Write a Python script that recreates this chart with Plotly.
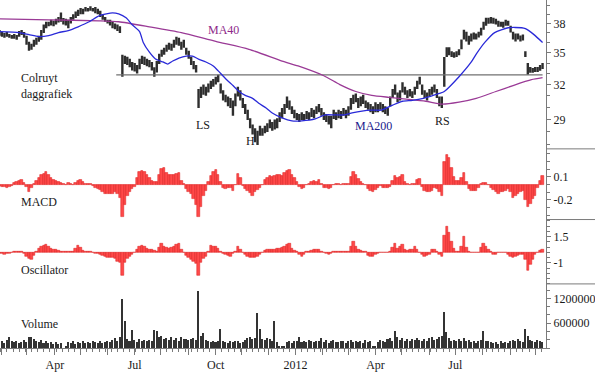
import math
import pandas as pd
import plotly.graph_objects as go

# ---------------- data ----------------
START_DAY = "2011-01-28"
N_DAYS = 443
STEP = 2  # one plotted bar per two trading sessions

price_low = [36.7, 36.6, 36.5, 36.6, 36.5, 36.4, 36.4, 36.3, 36.6, 36.8,
             36.5, 35.8, 35.2, 35.3, 35.6, 35.8, 36.1, 36.3, 37.0, 37.5,
             37.7, 37.8, 37.7, 37.9, 38.1, 38.2, 37.9, 37.8, 37.5, 38.0,
             38.4, 38.6, 38.8, 39.0, 39.0, 39.3, 39.3, 39.4, 39.3, 39.1,
             39.0, 38.7, 38.4, 38.2, 38.0, 37.8, 37.5, 37.4, 37.2, 37.0,
             32.7, 33.9, 33.8, 33.6, 33.3, 33.2, 33.0, 33.4, 33.9, 33.8,
             33.7, 33.6, 33.3, 32.7, 33.1, 33.9, 34.6, 34.8, 35.1, 35.3,
             35.2, 35.5, 35.8, 35.7, 35.3, 35.5, 34.8, 34.4, 33.8, 33.4,
             33.1, 29.95, 30.8, 31.1, 31.0, 31.3, 31.6, 31.8, 32.0, 32.2,
             31.2, 30.6, 30.45, 30.1, 29.95, 29.3, 30.1, 30.95, 30.6, 29.95,
             29.46, 28.97, 28.3, 27.8, 27.2, 27.0, 27.7, 27.7, 27.9, 28.0,
             28.3, 28.1, 28.2, 28.3, 28.8, 29.1, 29.46, 29.95, 29.8, 29.46,
             29.1, 28.97, 28.8, 28.97, 28.9, 29.05, 28.97, 29.2, 29.1, 29.46,
             29.6, 29.3, 28.97, 28.8, 28.6, 28.3, 29.05, 28.97, 29.1, 29.05,
             29.3, 29.1, 29.3, 29.8, 30.3, 30.45, 29.95, 30.1, 30.3, 29.95,
             29.8, 29.6, 29.46, 29.6, 29.6, 29.8, 29.6, 29.46, 29.3, 30.1,
             30.8, 31.1, 30.45, 30.6, 31.3, 31.1, 30.8, 30.95, 30.8, 31.1,
             31.6, 32.0, 31.1, 30.8, 30.6, 30.95, 31.1, 31.3, 30.8, 30.1,
             29.95, 31.8, 34.57, 34.76, 34.57, 34.5, 34.57, 34.76, 35.34, 36.33,
             36.13, 35.8, 36.13, 36.33, 36.33, 36.53, 36.73, 37.35, 37.76, 37.97,
             38.0, 37.97, 37.9, 37.65, 37.65, 37.55, 37.76, 37.76, 37.04, 36.33,
             36.13, 36.33, 36.13, 36.23, 34.57, 32.89, 33.07, 33.07, 33.16, 33.16,
             33.26, 33.44]

price_high = [37.3, 37.1, 37.0, 37.1, 36.9, 36.8, 36.9, 36.8, 37.2, 37.3,
              37.1, 36.7, 36.1, 35.9, 36.3, 36.5, 36.7, 37.3, 37.9, 38.2,
              38.2, 38.4, 38.3, 38.5, 38.7, 39.2, 38.6, 38.5, 38.4, 38.7,
              39.0, 39.3, 39.5, 39.7, 39.6, 39.8, 39.7, 39.9, 39.7, 39.8,
              39.6, 39.4, 39.0, 38.7, 38.4, 38.4, 38.2, 38.0, 37.9, 37.7,
              34.8, 34.7, 34.6, 34.4, 34.1, 34.0, 33.8, 34.4, 34.7, 34.6,
              34.4, 34.3, 34.1, 33.6, 34.2, 34.9, 35.3, 35.5, 35.8, 36.0,
              35.9, 36.3, 36.6, 36.5, 36.1, 36.3, 35.5, 35.2, 34.6, 34.2,
              33.8, 31.6, 31.8, 32.0, 31.8, 32.1, 32.35, 32.5, 32.7, 32.9,
              32.1, 31.5, 31.1, 30.95, 30.8, 30.6, 31.2, 31.8, 31.5, 30.8,
              30.3, 29.8, 29.1, 28.6, 28.3, 28.1, 28.5, 28.3, 28.5, 28.7,
              29.0, 28.8, 29.0, 29.1, 29.6, 29.95, 30.3, 30.95, 30.6, 30.1,
              29.8, 29.54, 29.46, 29.6, 29.46, 29.7, 29.6, 29.95, 29.8, 30.1,
              30.3, 29.95, 29.6, 29.46, 29.3, 29.3, 29.8, 29.6, 29.8, 29.7,
              29.95, 29.8, 30.1, 30.8, 31.1, 31.2, 30.8, 30.95, 31.1, 30.6,
              30.45, 30.3, 30.1, 30.45, 30.3, 30.45, 30.3, 30.1, 29.95, 30.95,
              31.6, 32.0, 31.3, 31.5, 32.2, 31.8, 31.5, 31.6, 31.4, 31.8,
              32.35, 32.7, 32.0, 31.5, 31.3, 31.6, 31.8, 32.0, 31.6, 30.95,
              30.95, 34.57, 35.54, 35.54, 35.15, 35.05, 35.15, 35.34, 36.33, 37.35,
              37.14, 36.7, 36.94, 37.04, 36.94, 37.14, 37.55, 38.19, 38.61, 38.61,
              38.7, 38.61, 38.5, 38.3, 38.19, 38.19, 38.4, 38.3, 37.76, 37.14,
              36.94, 36.94, 36.73, 36.83, 35.15, 34.0, 33.63, 33.53, 33.63, 33.63,
              33.81, 34.0]

# moving averages: sample positions (bar numbers) and values
ma_fast_at = [0, 8, 12, 16, 20, 24, 28, 32, 36.5, 40.5, 43.5, 46, 48.5, 51.5, 54, 57,
              58.5, 61, 63.5, 66.5, 68.5, 70.5, 73, 76, 78.5, 81, 84, 87, 89, 92, 95, 97.5,
              100, 103, 105.5, 108.5, 111, 115, 119, 123, 128.5, 132.5, 136.5, 140.5, 143.5,
              147.5, 151.5, 155.5, 160, 164, 168, 172.5, 179, 181, 187, 192, 194, 197.5,
              201.5, 207, 212.5, 214, 217.5, 221]
ma_fast = [37.14, 37.04, 36.83, 36.63, 36.73, 37.04, 37.25, 37.65, 38.19, 38.82, 39.04,
           39.15, 39.04, 38.61, 37.86, 37.14, 36.03, 35.05, 34.38, 34.10, 33.90, 34.19,
           34.48, 34.67, 34.67, 34.38, 34.10, 33.72, 33.26, 32.53, 31.91, 31.38, 31.04,
           30.78, 30.36, 29.95, 29.54, 29.13, 28.89, 28.89, 29.05, 29.38, 29.38, 29.38,
           29.54, 29.70, 29.78, 29.78, 30.20, 30.53, 30.61, 30.78, 31.21, 31.38, 32.71,
           34.10, 34.86, 36.03, 37.04, 37.55, 37.55, 37.45, 36.83, 36.03]
ma_slow_at = [0, 20, 40.5, 48.5, 61, 74, 88, 101.5, 115, 121.5, 132, 138.5, 145, 151.5,
              158.5, 166.5, 173.5, 180, 187, 194, 202, 209, 216.5, 221]
ma_slow = [38.5, 38.4, 38.29, 38.19, 37.65, 37.04, 36.13, 35.34, 34.19, 33.72, 32.8, 32.0,
           31.38, 31.04, 30.87, 30.7, 30.53, 30.28, 30.45, 30.78, 31.38, 31.91, 32.44, 32.62]

neckline_level = 32.89
neckline_span = [47.5, 221]  # bar numbers

macd_hist = [-0.02, -0.03, -0.03, -0.04, -0.03, -0.02, 0.02, 0.04, 0.05, 0.06,
             0.02, -0.03, -0.09, -0.05, 0.01, 0.05, 0.09, 0.12, 0.14, 0.165,
             0.13, 0.09, 0.065, 0.05, 0.04, 0.025, 0.01, -0.01, 0.025, 0.005,
             -0.01, 0.02, 0.05, 0.06, 0.03, 0.005, 0.01, 0.005, -0.02, -0.04,
             -0.06, -0.07, -0.09, -0.12, -0.125, -0.12, -0.12, -0.10, -0.12, -0.17,
             -0.42, -0.27, -0.15, -0.09, -0.06, -0.03, 0.08, 0.16, 0.18, 0.16,
             0.12, 0.085, 0.05, 0.03, 0.03, 0.13, 0.2, 0.21, 0.15, 0.12,
             0.13, 0.13, 0.14, 0.15, 0.05, 0.005, -0.06, -0.10, -0.12, -0.19,
             -0.27, -0.42, -0.29, -0.15, -0.08, 0.04, 0.11, 0.17, 0.19, 0.13,
             0.03, -0.04, -0.06, -0.05, -0.04, -0.08, -0.01, 0.14, 0.08, -0.02,
             -0.06, -0.08, -0.11, -0.145, -0.09, -0.07, -0.05, -0.01, 0.06, 0.09,
             0.11, 0.10, 0.11, 0.13, 0.13, 0.11, 0.15, 0.18, 0.19, 0.13,
             0.08, 0.03, -0.03, -0.06, -0.05, -0.01, 0.005, 0.03, 0.05, 0.04,
             0.055, 0.01, -0.04, -0.05, -0.06, -0.04, -0.01, 0.005, 0.005, -0.005,
             0.005, 0.01, 0.01, 0.10, 0.167, 0.12, 0.07, 0.04, 0.01, -0.01,
             -0.06, -0.08, -0.10, -0.07, -0.04, -0.02, -0.04, -0.04, -0.05, -0.03,
             0.05, 0.11, 0.08, 0.10, 0.13, 0.04, 0.01, -0.01, 0.01, 0.005,
             0.06, 0.07, -0.03, -0.08, -0.09, -0.10, -0.08, -0.05, -0.06, -0.09,
             -0.145, 0.30, 0.39, 0.34, 0.22, 0.10, 0.05, 0.05, 0.08, 0.15,
             0.03, -0.06, -0.08, -0.08, -0.08, -0.05, 0.01, 0.025, 0.02, -0.01,
             -0.04, -0.07, -0.09, -0.12, -0.10, -0.09, -0.08, -0.06, -0.10, -0.17,
             -0.15, -0.12, -0.10, -0.08, -0.20, -0.29, -0.25, -0.19, -0.145, -0.05,
             0.05, 0.11]

osc_hist = [-0.1, -0.15, -0.2, -0.15, -0.1, -0.06, 0.05, 0.1, 0.12, 0.1,
            -0.15, -0.4, -0.6, -0.68, -0.3, 0.1, 0.4, 0.55, 0.65, 0.71,
            0.6, 0.4, 0.3, 0.25, 0.2, 0.1, 0.1, 0.05, 0.12, 0.05,
            0.1, 0.35, 0.62, 0.5, 0.15, 0.1, 0.08, 0.1, -0.05, -0.1,
            -0.12, -0.2, -0.3, -0.37, -0.45, -0.53, -0.5, -0.6, -0.84, -1.0,
            -2.23, -1.0, -0.6, -0.37, -0.2, -0.06, 0.3, 0.56, 0.65, 0.55,
            0.4, 0.3, 0.25, 0.15, 0.1, 0.5, 0.87, 0.56, 0.45, 0.4,
            0.5, 0.56, 0.71, 0.87, 0.25, -0.05, -0.3, -0.53, -0.7, -0.84,
            -1.1, -2.23, -1.0, -0.6, -0.37, 0.1, 0.62, 0.6, 0.56, 0.4,
            0.1, -0.15, -0.22, -0.3, -0.37, -0.12, 0.1, 0.56, 0.3, -0.05,
            -0.22, -0.35, -0.45, -0.53, -0.45, -0.37, -0.2, -0.06, 0.15, 0.25,
            0.3, 0.31, 0.3, 0.35, 0.4, 0.45, 0.56, 0.7, 0.87, 0.4,
            0.2, 0.1, -0.22, -0.37, -0.25, 0.1, 0.1, 0.2, 0.25, 0.28,
            0.31, 0.1, -0.06, -0.15, -0.22, -0.15, 0.05, 0.1, 0.1, 0.08,
            0.1, 0.1, 0.12, 0.6, 1.02, 0.6, 0.3, 0.15, 0.1, 0.05,
            -0.31, -0.35, -0.37, -0.2, -0.1, 0.0, -0.05, 0.02, -0.05, 0.1,
            0.5, 0.8, 0.4, 0.55, 0.71, 0.25, 0.2, 0.25, 0.3, 0.56,
            0.3, -0.06, -0.2, -0.37, -0.3, -0.22, 0.25, 0.25, 0.1, -0.2,
            -0.37, 1.6, 2.48, 1.9, 1.02, 0.4, 0.1, 0.1, 0.6, 1.49,
            0.5, 0.05, -0.05, 0.02, -0.05, 0.0, 0.5, 0.87, 0.56, 0.25,
            0.1, -0.22, -0.2, -0.06, -0.03, 0.0, -0.05, -0.2, -0.37, -0.53,
            -0.4, -0.3, -0.25, -0.22, -0.7, -1.77, -1.15, -0.68, -0.22, -0.05,
            0.15, 0.25]

volume_thousands = [150, 180, 120, 200, 264, 160, 140, 180, 120, 150,
                    200, 140, 280, 260, 220, 180, 150, 200, 130, 170,
                    120, 150, 110, 140, 100, 130, 0, 60, 150, 130,
                    160, 110, 140, 120, 170, 130, 150, 120, 160, 140,
                    130, 170, 120, 150, 180, 140, 200, 240, 180, 260,
                    1200, 650, 220, 180, 448, 200, 150, 220, 170, 190,
                    160, 200, 180, 440, 420, 260, 300, 220, 250, 190,
                    280, 200, 240, 180, 260, 210, 230, 190, 220, 250,
                    200, 1380, 300, 368, 200, 170, 150, 180, 140, 160,
                    464, 180, 150, 130, 170, 140, 160, 180, 120, 150,
                    200, 240, 260, 230, 250, 840, 464, 220, 200, 240,
                    220, 180, 648, 150, 50, 40, 50, 150, 180, 130,
                    160, 180, 264, 150, 170, 140, 190, 160, 150, 180,
                    170, 240, 150, 200, 130, 170, 190, 150, 140, 180,
                    160, 130, 170, 200, 150, 180, 140, 160, 130, 190,
                    150, 170, 60, 50, 140, 200, 180, 150, 220, 240,
                    180, 424, 260, 200, 240, 180, 210, 160, 230, 190,
                    250, 200, 180, 220, 170, 240, 260, 200, 230, 280,
                    300, 880, 384, 250, 180, 200, 160, 220, 180, 250,
                    160, 200, 150, 180, 130, 170, 200, 424, 180, 160,
                    140, 120, 150, 110, 160, 130, 150, 120, 180, 200,
                    160, 220, 180, 150, 464, 300, 200, 180, 150, 190,
                    170, 150]

date_labels = ["Apr", "Jul", "Oct", "2012", "Apr", "Jul"]  # quarter starts, in order
price_ticks = [29, 32, 35, 38]
macd_ticks = [0.1, -0.2]
osc_ticks = [1.5, -1]
volume_ticks = [600000, 1200000]

# ---------------- construction ----------------
SERIF = "Liberation Serif, Times New Roman, serif"
AX = "#7a7a7a"
TXT = "#1a1a1a"

days = pd.bdate_range(START_DAY, periods=N_DAYS)
bar_x = [i * STEP for i in range(len(price_low))]
volume = [v * 1000 for v in volume_thousands]

month_idx, month_txt = [], []
labels_left = list(date_labels)
for i in range(1, N_DAYS):
    if days[i].month != days[i - 1].month:
        month_idx.append(i)
        if days[i].month in (1, 4, 7, 10) and labels_left:
            month_txt.append(labels_left.pop(0))
        else:
            month_txt.append("")
monday_idx = [i for i, d in enumerate(days) if d.weekday() == 0 and i not in month_idx]

# price bars as vertical segments
seg_x, seg_y = [], []
for x, lo, hi in zip(bar_x, price_low, price_high):
    seg_x += [x, x, None]
    seg_y += [lo, hi, None]

fig = go.Figure()
fig.add_trace(go.Scatter(x=seg_x, y=seg_y, mode="lines", line=dict(color="#2e2e2e", width=2.4),
                         connectgaps=False, hoverinfo="skip", yaxis="y"))
fig.add_trace(go.Scatter(x=[a * STEP for a in neckline_span], y=[neckline_level] * 2, mode="lines",
                         line=dict(color="#707070", width=1.3), yaxis="y"))
fig.add_trace(go.Scatter(x=[a * STEP for a in ma_slow_at], y=ma_slow, mode="lines",
                         line=dict(color="#9a3a96", width=1.3, shape="spline", smoothing=0.6), yaxis="y"))
fig.add_trace(go.Scatter(x=[a * STEP for a in ma_fast_at], y=ma_fast, mode="lines",
                         line=dict(color="#2a2ad8", width=1.3, shape="spline", smoothing=0.6), yaxis="y"))
fig.add_trace(go.Bar(x=bar_x, y=macd_hist, width=STEP, marker=dict(color="#ff4a4a",
                     line=dict(color="#d81818", width=0.5)), yaxis="y2"))
fig.add_trace(go.Bar(x=bar_x, y=osc_hist, width=STEP, marker=dict(color="#ff4a4a",
                     line=dict(color="#d81818", width=0.5)), yaxis="y3"))
fig.add_trace(go.Bar(x=bar_x, y=volume, width=STEP * 0.62, marker=dict(color="#333333", line=dict(width=0)),
                     yaxis="y4"))

H = 353.0
W = 548.0
b1, b2, b3 = 151.0, 222.7, 288.0


def dom(top, bottom):
    return [1 - bottom / H, 1 - top / H]


def yax(domain, **kw):
    d = dict(domain=domain, side="right", anchor="x", showline=True, linecolor=AX, linewidth=1,
             ticks="outside", ticklen=4, tickcolor=AX, showgrid=False, zeroline=False,
             tickfont=dict(family=SERIF, size=12, color=TXT), fixedrange=True)
    d.update(kw)
    return d


fig.update_layout(
    width=595, height=372, margin=dict(l=0, r=47, t=0, b=19),
    paper_bgcolor="white", plot_bgcolor="white", showlegend=False, bargap=0,
    xaxis=dict(domain=[0, 1], anchor="y4", range=[0.4, 444.8], showline=True, linecolor=AX,
               ticks="outside", ticklen=6, tickcolor=AX, tickmode="array", tickvals=month_idx,
               ticktext=month_txt, tickfont=dict(family=SERIF, size=12, color=TXT),
               showgrid=False, zeroline=False,
               minor=dict(tickmode="array", tickvals=monday_idx, ticks="outside", ticklen=3,
                          tickcolor=AX)),
    yaxis=yax(dom(0, b1), type="log", range=[math.log10(26.7), math.log10(40.6)],
              tickmode="array", tickvals=price_ticks, ticktext=[str(t) for t in price_ticks],
              minor=dict(tickmode="array", tickvals=[27, 28, 30, 31, 33, 34, 36, 37, 39, 40],
                         ticks="outside", ticklen=3, tickcolor=AX)),
    yaxis2=yax(dom(b1, b2), range=[-0.456, 0.463], tickmode="array", tickvals=macd_ticks,
               ticktext=["0.1", "-0.2"],
               minor=dict(tick0=0, dtick=0.1, ticks="outside", ticklen=3, tickcolor=AX)),
    yaxis3=yax(dom(b2, b3), range=[-3.0, 3.12], tickmode="array", tickvals=osc_ticks,
               ticktext=["1.5", "-1"],
               minor=dict(tick0=0, dtick=0.5, ticks="outside", ticklen=3, tickcolor=AX)),
    yaxis4=yax(dom(b3, H), range=[0, 1552800], tickmode="array", tickvals=volume_ticks,
               ticktext=[str(t) for t in volume_ticks],
               minor=dict(tick0=0, dtick=200000, ticks="outside", ticklen=3, tickcolor=AX)),
)

for yb in (b1, b2, b3):
    fig.add_shape(type="line", xref="paper", yref="paper", x0=1, x1=1.1, y0=1 - yb / H, y1=1 - yb / H,
                  line=dict(color=AX, width=1))


def note(text, px, py, color=TXT):
    fig.add_annotation(text=text, x=px / W, y=1 - py / H, xref="paper", yref="paper",
                       xanchor="left", yanchor="middle", showarrow=False,
                       font=dict(family=SERIF, size=12, color=color))


note("Colruyt", 19, 79)
note("daggrafiek", 19, 95)
note("MA40", 207, 30, "#8e2a8a")
note("LS", 195, 127)
note("H", 245, 143)
note("MA200", 354, 128, "#20208c")
note("RS", 435, 123)
note("MACD", 19, 205)
note("Oscillator", 19, 274)
note("Volume", 19, 329)

fig.write_html("out.html")
